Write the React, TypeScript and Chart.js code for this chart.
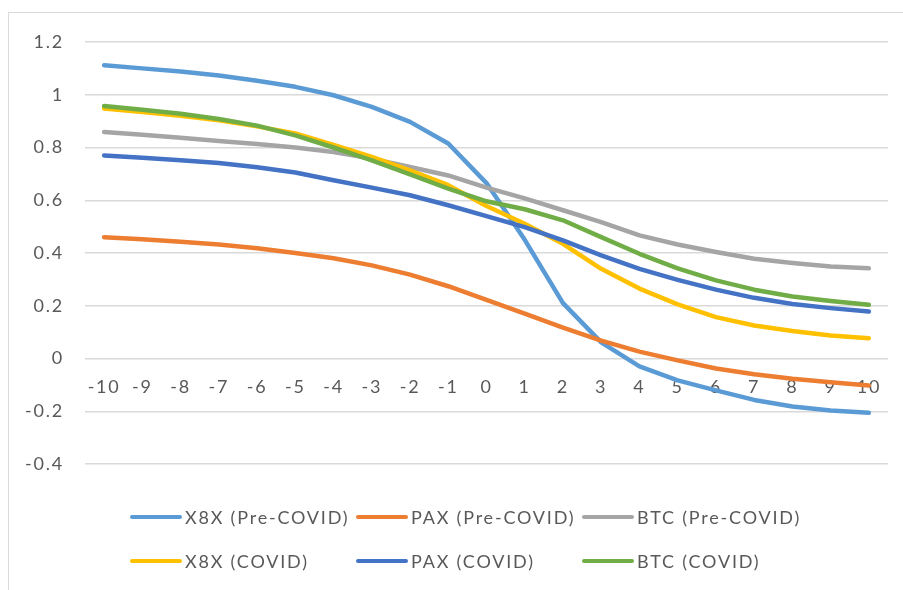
import React, { useEffect, useRef } from "react";
import { Chart, registerables } from "chart.js";

Chart.register(...registerables);

const categories = ["-10", "-9", "-8", "-7", "-6", "-5", "-4", "-3", "-2", "-1", "0", "1", "2", "3", "4", "5", "6", "7", "8", "9", "10"];

const seriesNames = ["X8X (Pre-COVID)", "PAX (Pre-COVID)", "BTC (Pre-COVID)", "X8X (COVID)", "PAX (COVID)", "BTC (COVID)"];
const seriesColors = ["#5B9BD5", "#ED7D31", "#A5A5A5", "#FFC000", "#4472C4", "#70AD47"];

const x8xPre = [1.112, 1.1, 1.088, 1.073, 1.053, 1.03, 0.998, 0.954, 0.897, 0.815, 0.665, 0.45, 0.21, 0.061, -0.03, -0.083, -0.121, -0.157, -0.182, -0.197, -0.206];
const paxPre = [0.46, 0.452, 0.443, 0.432, 0.418, 0.4, 0.38, 0.353, 0.318, 0.274, 0.222, 0.17, 0.117, 0.068, 0.026, -0.007, -0.038, -0.06, -0.077, -0.09, -0.102];
const btcPre = [0.859, 0.848, 0.837, 0.825, 0.813, 0.8, 0.783, 0.758, 0.726, 0.694, 0.648, 0.607, 0.562, 0.517, 0.467, 0.432, 0.404, 0.378, 0.362, 0.349, 0.342];
const x8xCovid = [0.948, 0.935, 0.92, 0.903, 0.88, 0.853, 0.81, 0.764, 0.713, 0.657, 0.578, 0.511, 0.435, 0.34, 0.265, 0.205, 0.157, 0.125, 0.104, 0.087, 0.077];
const paxCovid = [0.77, 0.761, 0.752, 0.741, 0.725, 0.705, 0.676, 0.648, 0.619, 0.581, 0.54, 0.498, 0.448, 0.391, 0.34, 0.298, 0.261, 0.23, 0.207, 0.191, 0.178];
const btcCovid = [0.957, 0.943, 0.928, 0.908, 0.883, 0.846, 0.8, 0.751, 0.698, 0.644, 0.596, 0.566, 0.524, 0.46, 0.397, 0.342, 0.296, 0.261, 0.235, 0.218, 0.204];

const seriesValues = [x8xPre, paxPre, btcPre, x8xCovid, paxCovid, btcCovid];

const yMin = -0.4;
const yMax = 1.2;
const yStep = 0.2;

const FONT = "Lato, 'Open Sans', sans-serif";
const TEXT = "#595959";
const SPACING = "1.8px";

const spacingPlugin = {
  id: "letterSpacing",
  beforeUpdate(chart: any) {
    chart.ctx.letterSpacing = SPACING;
  },
  beforeLayout(chart: any) {
    chart.ctx.letterSpacing = SPACING;
  },
  beforeDraw(chart: any) {
    chart.ctx.letterSpacing = SPACING;
  },
};

export default function App() {
  const canvasRef = useRef<HTMLCanvasElement | null>(null);

  useEffect(() => {
    if (!canvasRef.current) return;
    const chart = new Chart(canvasRef.current, {
      type: "line",
      data: {
        labels: categories,
        datasets: seriesValues.map((vals, i) => ({
          label: seriesNames[i],
          data: vals,
          borderColor: seriesColors[i],
          backgroundColor: seriesColors[i],
          borderWidth: 4.5,
          borderCapStyle: "round" as const,
          borderJoinStyle: "round" as const,
          pointRadius: 0,
          tension: 0,
          fill: false,
          order: seriesValues.length - 1 - i,
        })),
      },
      plugins: [spacingPlugin],
      options: {
        animation: false,
        responsive: true,
        maintainAspectRatio: false,
        layout: { padding: { top: 42, right: 15, bottom: 126, left: 0 } },
        plugins: { legend: { display: false }, tooltip: { enabled: false } },
        scales: {
          x: {
            type: "category",
            offset: true,
            position: { y: 0 } as any,
            grid: { display: false, drawTicks: false },
            border: { display: false },
            ticks: {
              color: TEXT,
              font: { family: FONT, size: 18 },
              padding: 18,
              maxRotation: 0,
              autoSkip: false,
            },
          },
          y: {
            min: yMin,
            max: yMax,
            afterFit: (s: any) => {
              s.width = 85;
            },
            grid: { color: "#d9d9d9", lineWidth: 1.5, drawTicks: false },
            border: { display: false },
            ticks: {
              stepSize: yStep,
              color: TEXT,
              padding: 21,
              font: { family: FONT, size: 18 },
              callback: (v: any) => String(Math.round(Number(v) * 10) / 10),
            },
          },
        },
      },
    });
    return () => chart.destroy();
  }, []);

  const legendRows = [
    [0, 1, 2],
    [3, 4, 5],
  ];

  return (
    <div style={{ position: "fixed", left: 0, top: 0, width: 903, height: 590, background: "#fff", overflow: "hidden" }}>
      <div style={{ position: "absolute", left: 8, top: 12, width: 1000, height: 700, border: "1px solid #d9d9d9", boxSizing: "border-box" }} />
      <div style={{ position: "absolute", left: 0, top: 0, width: 903, height: 590 }}>
        <canvas ref={canvasRef} />
      </div>
      {legendRows.map((row, r) =>
        row.map((idx, c) => (
          <div
            key={idx}
            style={{
              position: "absolute",
              left: 130 + c * 226,
              top: 517 + r * 44 - 12,
              height: 24,
              display: "flex",
              alignItems: "center",
              fontFamily: FONT,
              fontSize: 18,
              letterSpacing: SPACING,
              color: TEXT,
              whiteSpace: "nowrap",
            }}
          >
            <span style={{ display: "inline-block", width: 52, height: 4.5, borderRadius: 3, background: seriesColors[idx], marginRight: 3 }} />
            <span>{seriesNames[idx]}</span>
          </div>
        ))
      )}
    </div>
  );
}
